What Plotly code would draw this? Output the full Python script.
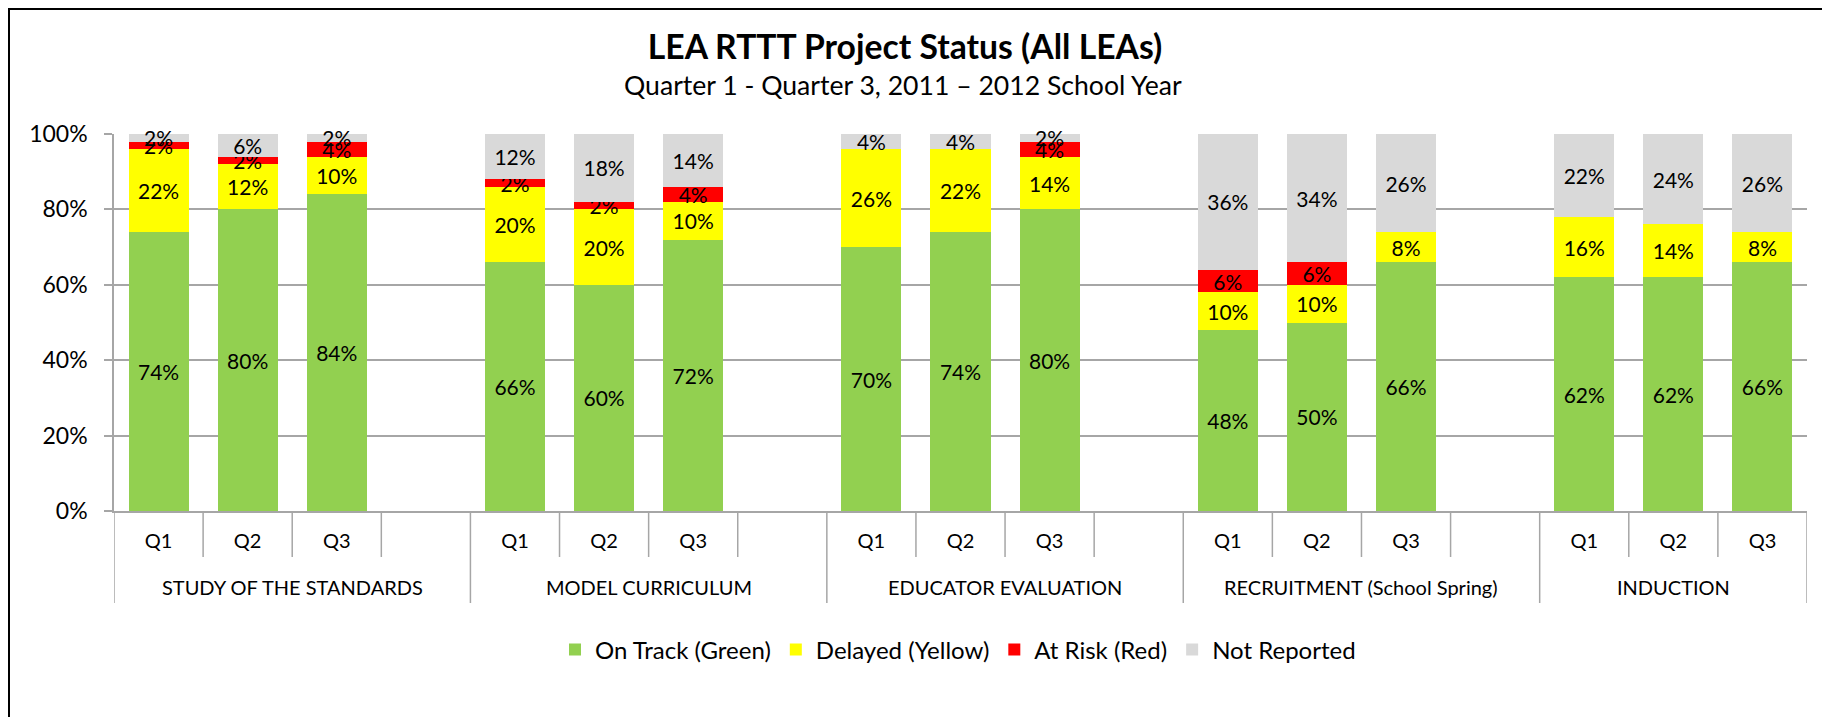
import plotly.graph_objects as go

groups = ["STUDY OF THE STANDARDS", "MODEL CURRICULUM", "EDUCATOR EVALUATION",
          "RECRUITMENT (School Spring)", "INDUCTION"]
quarters = ["Q1", "Q2", "Q3"]

# values per group, per quarter (percent)
on_track = [[74, 80, 84], [66, 60, 72], [70, 74, 80], [48, 50, 66], [62, 62, 66]]
delayed = [[22, 12, 10], [20, 20, 10], [26, 22, 14], [10, 10, 8], [16, 14, 8]]
at_risk = [[2, 2, 4], [2, 2, 4], [0, 0, 4], [6, 6, 0], [0, 0, 0]]
not_reported = [[2, 6, 2], [12, 18, 14], [4, 4, 2], [36, 34, 26], [22, 24, 26]]

series = [
    ("On Track (Green)", on_track, "#92D050"),
    ("Delayed (Yellow)", delayed, "#FFFF00"),
    ("At Risk (Red)", at_risk, "#FF0000"),
    ("Not Reported", not_reported, "#D9D9D9"),
]

# category slots: Q1..Q3 per group plus a blank slot after each group but the last
cats, ticktext, group_of_slot = [], [], []
for gi, g in enumerate(groups):
    for q in quarters:
        cats.append(f"{g}|{q}")
        ticktext.append(q)
        group_of_slot.append(gi)
    if gi < len(groups) - 1:
        cats.append(f"{g}|")
        ticktext.append("")
        group_of_slot.append(gi)


def flat(vals):
    out = []
    for gi, row in enumerate(vals):
        out.extend(row)
        if gi < len(groups) - 1:
            out.append(None)
    return out


FONT = "Lato"
GRID = "#A6A6A6"
OFF = 8  # page body margin of the html document

fig = go.Figure()
for name, vals, color in series:
    ys = [None if (v is None or v == 0) else v / 100 for v in flat(vals)]
    texts = ["" if v is None else f"{round(v * 100)}%" for v in ys]
    fig.add_trace(go.Bar(
        name=name, x=cats, y=ys, marker_color=color, marker_line_width=0,
        text=texts, textposition="inside", insidetextanchor="middle",
        textangle=0, constraintext="none", cliponaxis=False,
        textfont=dict(family=FONT, size=21, color="black"),
        hoverinfo="skip",
    ))

W, H = 1830 - OFF, 717 - OFF
L, T = 114 - OFF, 134 - OFF
right_edge, base = 1807 - OFF, 511 - OFF
R, B = W - right_edge, H - base
pw, ph = W - L - R, H - T - B


def py(screen_y):
    """screen pixel row -> paper y"""
    return (base - (screen_y - OFF)) / ph


def px(screen_x):
    return ((screen_x - OFF) - L) / pw


# axis separators (Excel-style category table lines)
n = len(cats)
shapes = []
for i in range(n + 1):
    xb = i - 0.5
    is_group_edge = (i == 0 or i == n or group_of_slot[i] != group_of_slot[i - 1])
    depth = 603 if is_group_edge else 557
    shapes.append(dict(type="line", xref="x", yref="paper", x0=xb, x1=xb,
                       y0=py(depth), y1=0,
                       line=dict(color=GRID, width=1.5), layer="above"))
# outer chart border
shapes.append(dict(type="rect", xref="paper", yref="paper",
                   x0=px(OFF + 1), x1=px(1823),
                   y0=py(780), y1=py(OFF + 1),
                   line=dict(color="black", width=2), fillcolor="rgba(0,0,0,0)",
                   layer="below"))

annotations = [dict(text="Quarter 1 - Quarter 3, 2011 \u2013 2012 School Year",
                    xref="paper", yref="paper", x=px(903), y=py(85),
                    xanchor="center", yanchor="middle", showarrow=False,
                    font=dict(family=FONT, size=26.6, color="black"))]
for gi, g in enumerate(groups):
    idx = [i for i, s in enumerate(group_of_slot) if s == gi]
    annotations.append(dict(text=g, xref="x", yref="paper",
                            x=(idx[0] + idx[-1]) / 2, y=py(587),
                            xanchor="center", yanchor="middle", showarrow=False,
                            font=dict(family=FONT, size=20, color="black")))

fig.update_layout(
    width=W, height=H, barmode="stack", bargap=0.326,
    margin=dict(l=L, r=R, t=T, b=B, autoexpand=False),
    paper_bgcolor="white", plot_bgcolor="white",
    font=dict(family=FONT, color="black"),
    title=dict(text="<b>LEA RTTT Project Status (All LEAs)</b>",
               x=(905 - OFF) / W, xref="container", xanchor="center",
               y=1 - (47 - OFF) / H, yref="container", yanchor="middle",
               font=dict(family=FONT, size=33.7, color="black")),
    annotations=annotations,
    legend=dict(orientation="h", x=px(958), xanchor="center",
                y=1 - (650 - OFF) / H, yref="container", yanchor="middle",
                font=dict(family=FONT, size=24, color="black"),
                itemwidth=30, traceorder="normal"),
    shapes=shapes,
)

fig.update_yaxes(range=[0, 1], tickvals=[0, 0.2, 0.4, 0.6, 0.8, 1.0],
                 tickformat=".0%", showgrid=True, gridcolor=GRID, gridwidth=1.5,
                 showline=True, linecolor=GRID, linewidth=1.5,
                 ticks="outside", ticklen=8, tickcolor=GRID, tickwidth=1.5,
                 ticklabelstandoff=12, automargin=False,
                 tickfont=dict(family=FONT, size=23, color="black"),
                 zeroline=False)
fig.update_xaxes(type="category", categoryorder="array", categoryarray=cats,
                 tickvals=cats, ticktext=ticktext, range=[-0.5, n - 0.5],
                 showline=True, linecolor=GRID, linewidth=1.5, ticks="",
                 ticklabelstandoff=11, automargin=False,
                 tickfont=dict(family=FONT, size=20, color="black"))

fig.write_html("out.html")
